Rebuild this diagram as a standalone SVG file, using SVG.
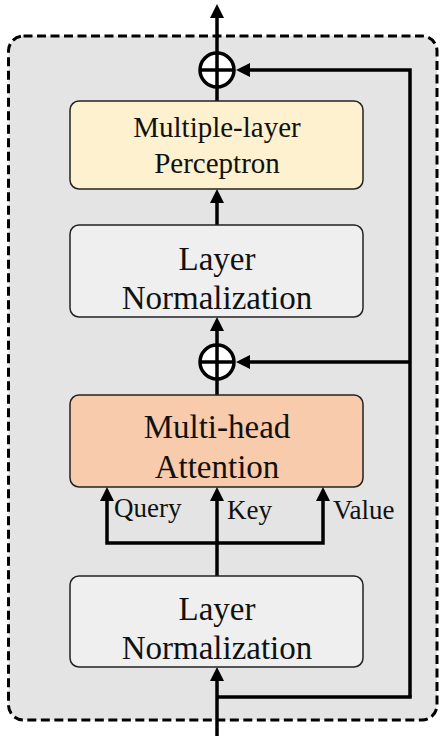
<svg xmlns="http://www.w3.org/2000/svg" width="440" height="736" viewBox="0 0 440 736">
  <style>
    .frame { fill: #e4e4e4; stroke: #000; stroke-width: 3; stroke-dasharray: 9 4.5; }
    .box { stroke: #222; stroke-width: 1.5; }
    .norm { fill: #efefef; }
    .mlp { fill: #fdf1cf; }
    .attn { fill: #f8cbac; }
    .lbl { font-family: "Liberation Serif", "Times New Roman", serif; fill: #111; text-anchor: middle; }
    .port { font-family: "Liberation Serif", "Times New Roman", serif; fill: #111; font-size: 27px; }
    .wire { fill: none; stroke: #000; stroke-width: 3.5; stroke-linejoin: miter; }
    .arr { marker-end: url(#head); }
    .sum { fill: #fff; stroke: #000; stroke-width: 3.5; }
  </style>
  <defs>
    <marker id="head" markerUnits="userSpaceOnUse" markerWidth="15" markerHeight="15" refX="6" refY="7" orient="auto">
      <path d="M0,0 L14,7 L0,14 z" fill="#000"/>
    </marker>
  </defs>

  <!-- block container -->
  <rect class="frame" x="8.5" y="36" width="428.5" height="684" rx="15"/>

  <!-- connectors -->
  <g id="connectors">
    <line class="wire arr" x1="217" y1="53" x2="217" y2="12"/>
    <path class="wire arr" d="M410,697 L410,70 L244,70"/>
    <line class="wire" x1="217" y1="101" x2="217" y2="87"/>
    <line class="wire arr" x1="217" y1="225" x2="217" y2="197"/>
    <line class="wire arr" x1="217" y1="345" x2="217" y2="325"/>
    <line class="wire arr" x1="410" y1="362" x2="244" y2="362"/>
    <line class="wire" x1="217" y1="395" x2="217" y2="379"/>
    <path class="wire arr" d="M217,543 L107,543 L107,495"/>
    <path class="wire arr" d="M217,543 L323,543 L323,495"/>
    <line class="wire arr" x1="217" y1="576" x2="217" y2="495"/>
    <line class="wire arr" x1="217" y1="736" x2="217" y2="675"/>
    <line class="wire" x1="217" y1="697" x2="411.75" y2="697"/>
  </g>

  <!-- residual adders -->
  <g id="add-top">
    <circle class="sum" cx="217" cy="70" r="17"/>
    <line class="wire" x1="200" y1="70" x2="234" y2="70"/>
    <line class="wire" x1="217" y1="53" x2="217" y2="87"/>
  </g>
  <g id="add-mid">
    <circle class="sum" cx="217" cy="362" r="17"/>
    <line class="wire" x1="200" y1="362" x2="234" y2="362"/>
    <line class="wire" x1="217" y1="345" x2="217" y2="379"/>
  </g>

  <!-- processing blocks -->
  <g id="mlp">
    <rect class="box mlp" x="70" y="101" width="293" height="88" rx="9"/>
    <text class="lbl" x="217" y="137" font-size="29">Multiple-layer</text>
    <text class="lbl" x="217" y="173" font-size="29">Perceptron</text>
  </g>
  <g id="norm-top">
    <rect class="box norm" x="70" y="225" width="293" height="92" rx="9"/>
    <text class="lbl" x="217" y="270" font-size="33">Layer</text>
    <text class="lbl" x="217" y="309" font-size="33">Normalization</text>
  </g>
  <g id="attention">
    <rect class="box attn" x="70" y="395" width="293" height="92" rx="9"/>
    <text class="lbl" x="217" y="438" font-size="33">Multi-head</text>
    <text class="lbl" x="217" y="478" font-size="33">Attention</text>
  </g>
  <g id="norm-bottom">
    <rect class="box norm" x="70" y="576" width="293" height="91" rx="9"/>
    <text class="lbl" x="217" y="620" font-size="33">Layer</text>
    <text class="lbl" x="217" y="659" font-size="33">Normalization</text>
  </g>

  <!-- attention input labels -->
  <g id="ports">
    <text class="port" x="114" y="517">Query</text>
    <text class="port" x="227" y="519">Key</text>
    <text class="port" x="333" y="519">Value</text>
  </g>
</svg>
